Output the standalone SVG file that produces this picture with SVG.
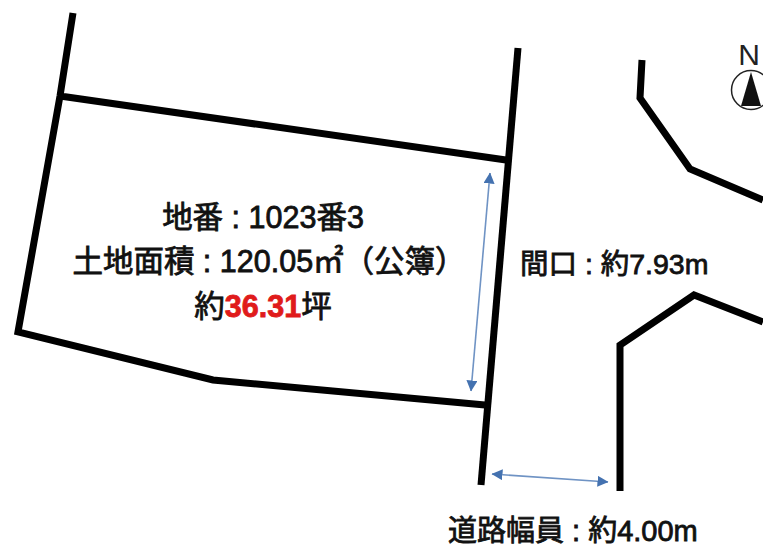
<svg xmlns="http://www.w3.org/2000/svg" width="763" height="548" viewBox="0 0 763 548">
<defs>
<marker id="ah" viewBox="0 0 11 11" refX="10.5" refY="5.5" markerWidth="11" markerHeight="11" markerUnits="userSpaceOnUse" orient="auto-start-reverse"><path d="M0 0L11 5.5L0 11Z" fill="#4472b0"/></marker>
</defs>
<style>
.w{fill:none;stroke:#000;stroke-width:7;stroke-linejoin:miter}
.d{fill:none;stroke:#6f93c4;stroke-width:1.6;marker-start:url(#ah);marker-end:url(#ah)}
.t{font-family:"Liberation Sans","Noto Sans CJK JP",sans-serif;font-size:28.5px;fill:#111;stroke:#111;stroke-width:.8}
.l{font-size:30.5px}
.m{text-anchor:middle}
</style>
<rect width="763" height="548" fill="#fff"/>
<g id="connectors">
<path class="w" d="M73 13L60 96M60 96L18 332L213 380L485 405M60 96L506 160"/>
<path class="w" d="M518 48L481 485"/>
<path class="w" d="M642 60L640 98L690 169L763 200"/>
<path class="w" d="M763 322L694 295L620 345L620 491"/>
<path class="d" d="M490 173L471 391"/>
<path class="d" d="M492 474L608 482"/>
</g>
<g id="north">
<text x="749" y="65" font-family="Liberation Sans,sans-serif" font-size="30" fill="#222" text-anchor="middle">N</text>
<circle cx="751" cy="90" r="19.5" fill="#fff" stroke="#222" stroke-width="1.5"/>
<path d="M751 72L741 106L761 106Z" fill="#111"/>
</g>
<g id="lot-label">
<text class="t l m" x="263" y="228">地番 : 1023番3</text>
<text class="t l m" x="269" y="272">土地面積 : 120.05㎡（公簿）</text>
<text class="t l m" x="263" y="317">約<tspan fill="#e01b1b" stroke="#e01b1b" font-weight="700">36.31</tspan>坪</text>
</g>
<g id="frontage-label"><text class="t" x="520" y="274">間口 : 約7.93m</text></g>
<g id="road-label"><text class="t" x="448" y="541" style="font-size:29px">道路幅員 : 約4.00m</text></g>
</svg>
